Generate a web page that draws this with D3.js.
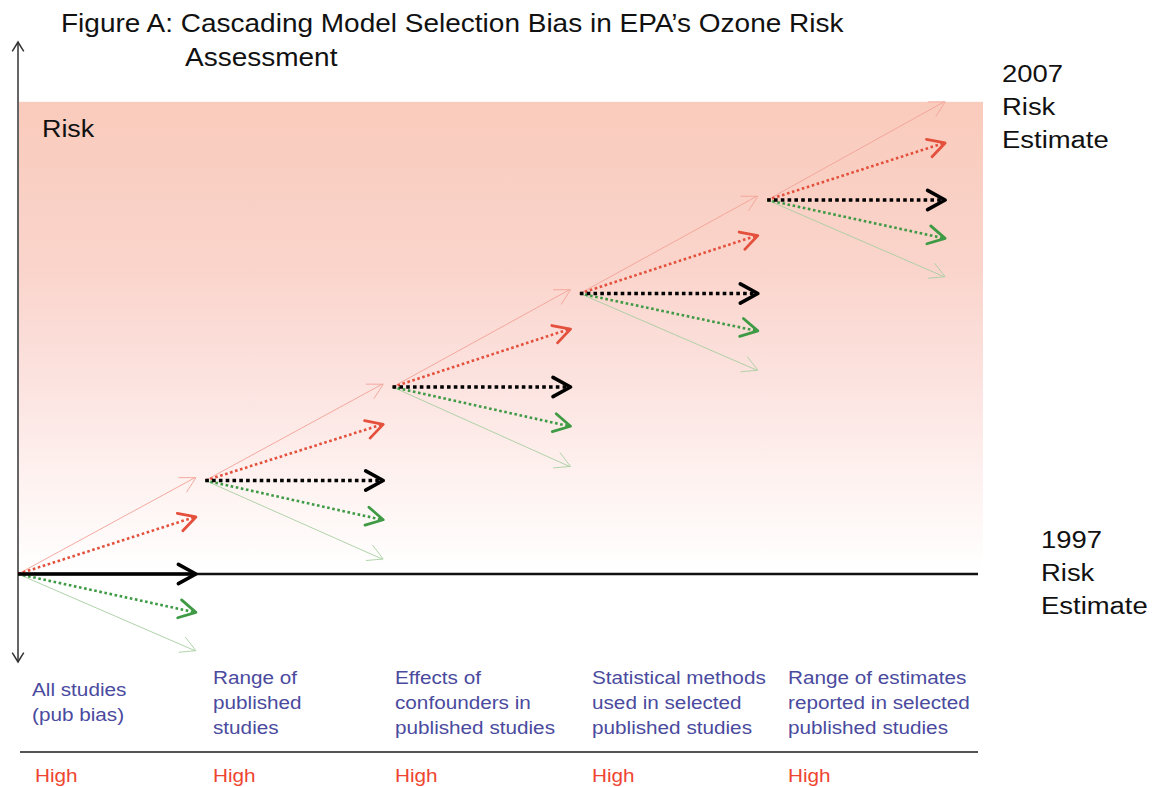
<!DOCTYPE html>
<html>
<head>
<meta charset="utf-8">
<script src="https://cdn.jsdelivr.net/npm/d3@7"></script>
<style>
  html, body { margin: 0; padding: 0; background: #fff; }
  svg { display: block; font-family: "Liberation Sans", Arial, sans-serif; }
</style>
</head>
<body>
<svg id="chart" width="1152" height="787"></svg>
<script>
// ---------------- data ----------------
const titleLines = ["Figure A: Cascading Model Selection Bias in EPA\u2019s Ozone Risk", "Assessment"];
const axisLabel = "Risk";
const topLabel = ["2007", "Risk", "Estimate"];
const bottomLabel = ["1997", "Risk", "Estimate"];
const stageLabels = [
  ["All studies", "(pub bias)"],
  ["Range of", "published", "studies"],
  ["Effects of", "confounders in", "published studies"],
  ["Statistical methods", "used in selected", "published studies"],
  ["Range of estimates", "reported in selected", "published studies"]
];
const ratings = ["High", "High", "High", "High", "High"];
// risk level at which each stage starts (relative units, 1997 estimate = 0)
const stageStart     = [0, 1, 2, 3, 4];
// risk level reached by each arrow at the end of the stage
const upperBound     = [1.03, 2.03, 3.04, 4.04, 5.05];
const upperEstimate  = [0.61, 1.60, 2.62, 3.62, 4.61];
const centralEstim   = [0, 1, 2, 3, 4];
const lowerEstimate  = [-0.41, 0.58, 1.58, 2.60, 3.59];
const lowerBound     = [-0.82, 0.16, 1.15, 2.18, 3.18];
const riskBaseline   = 0;      // 1997 risk estimate
const riskCeiling    = 5.05;   // 2007 risk estimate

// ---------------- layout ----------------
const SX = 1.12; // horizontal stretch of the original lettering
const svg = d3.select("#chart");
const x = d3.scaleLinear().domain([0, 5]).range([18, 954.5]);
const y = d3.scaleLinear().domain([0, 4]).range([574, 200]);
const stepLen = 0.95;

// gradient background
const defs = svg.append("defs");
const grad = defs.append("linearGradient").attr("id", "bg").attr("x1", 0).attr("y1", 0).attr("x2", 0).attr("y2", 1);
[["0%", "#f9cbbc"], ["35%", "#fad4cb"], ["60%", "#fce3e0"], ["82%", "#fef3f1"], ["100%", "#ffffff"]]
  .forEach(([o, c]) => grad.append("stop").attr("offset", o).attr("stop-color", c));
svg.append("rect")
  .attr("x", 19).attr("y", y(riskCeiling))
  .attr("width", 983 - 19).attr("height", y(riskBaseline) - 2 - y(riskCeiling))
  .attr("fill", "url(#bg)");

function chevron(x1, y1, x2, y2, len, half) {
  const a = Math.atan2(y2 - y1, x2 - x1);
  const p1 = [x2 - len * Math.cos(a - half), y2 - len * Math.sin(a - half)];
  const p2 = [x2 - len * Math.cos(a + half), y2 - len * Math.sin(a + half)];
  return `M${p1[0]},${p1[1]}L${x2},${y2}L${p2[0]},${p2[1]}`;
}

// vertical axis with arrowheads at both ends
const axG = svg.append("g");
axG.append("line").attr("x1", 18).attr("x2", 18).attr("y1", 42).attr("y2", 662)
  .attr("stroke", "#333").attr("stroke-width", 1.5);
axG.append("path").attr("d", chevron(18, 100, 18, 42, 11, 0.55)).attr("fill", "none").attr("stroke", "#333").attr("stroke-width", 1.5);
axG.append("path").attr("d", chevron(18, 600, 18, 662, 11, 0.55)).attr("fill", "none").attr("stroke", "#333").attr("stroke-width", 1.5);

// 1997 baseline
svg.append("line").attr("x1", 18).attr("x2", 978).attr("y1", y(riskBaseline)).attr("y2", y(riskBaseline))
  .attr("stroke", "#111").attr("stroke-width", 2.5);

// series specs
const series = [
  { vals: upperBound,    color: "#f3a398", width: 1,   dash: null,      head: 1,   hl: 17, opacity: 0.9 },
  { vals: lowerBound,    color: "#a8cfa2", width: 1,   dash: null,      head: 1,   hl: 17, opacity: 0.9 },
  { vals: upperEstimate, color: "#e4503c", width: 2.6, dash: "2.6 2.6", head: 2.8, hl: 19, opacity: 1 },
  { vals: lowerEstimate, color: "#3e9a44", width: 2.6, dash: "2.6 2.6", head: 2.8, hl: 19, opacity: 1 },
  { vals: centralEstim,  color: "#000000", width: 3.6, dash: "3.6 3.2", head: 3.6, hl: 20, opacity: 1 }
];

const arrowsG = svg.append("g");
series.forEach(s => {
  stageStart.forEach((st, i) => {
    const x1 = x(i), y1 = y(st), x2 = x(i + stepLen), y2 = y(s.vals[i]);
    const solidCentral = (s.vals === centralEstim && i === 0);
    arrowsG.append("line")
      .attr("x1", x1).attr("y1", y1).attr("x2", x2 - 1).attr("y2", y2)
      .attr("stroke", s.color).attr("stroke-width", s.width)
      .attr("stroke-dasharray", solidCentral ? null : s.dash)
      .attr("opacity", s.opacity);
    arrowsG.append("path")
      .attr("d", chevron(x1, y1, x2, y2, s.hl, 0.5))
      .attr("fill", "none").attr("stroke", s.color)
      .attr("stroke-width", s.head).attr("stroke-linecap", "round").attr("stroke-linejoin", "round")
      .attr("opacity", s.opacity);
  });
});

// text helper
function txt(px, py, str, size, color) {
  return svg.append("text")
    .attr("transform", `translate(${px},${py}) scale(${SX},1)`)
    .attr("font-size", size).attr("fill", color).text(str);
}

// title
txt(61, 32, titleLines[0], 25, "#111");
txt(185, 66, titleLines[1], 25, "#111");
// axis label
txt(42, 137, axisLabel, 24, "#111");
// right labels
topLabel.forEach((t, i) => txt(1002, 82 + i * 33, t, 24.5, "#111"));
bottomLabel.forEach((t, i) => txt(1041, 548 + i * 33, t, 24.5, "#111"));

// stage labels
const labelX = [32, 213, 395, 592, 788];
stageLabels.forEach((lines, i) => {
  const y0 = lines.length === 2 ? 696 : 684;
  lines.forEach((l, j) => txt(labelX[i], y0 + j * 25, l, 18.5, "#4a4a9e"));
});
// separator
svg.append("line").attr("x1", 20).attr("x2", 978).attr("y1", 752).attr("y2", 752)
  .attr("stroke", "#555").attr("stroke-width", 2);
ratings.forEach((r, i) => txt(labelX[i] + (i === 0 ? 3 : 0), 782, r, 18.5, "#ee4430"));
</script>
</body>
</html>
